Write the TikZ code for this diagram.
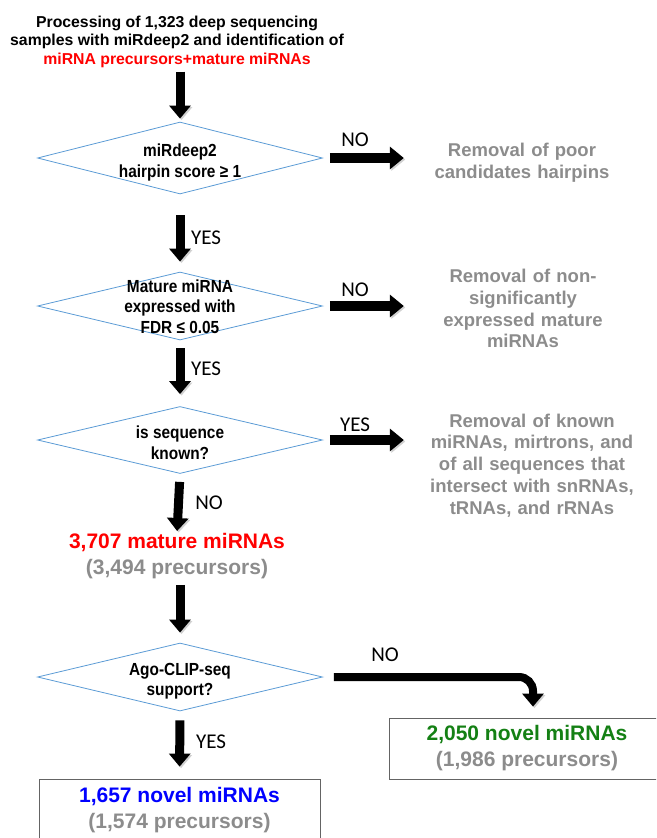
\documentclass[tikz,border=0pt]{standalone}
\usepackage{fontspec}
\setmainfont{Liberation Sans}
\newfontfamily\answerfont{Carlito}
\newfontfamily\narrowfont[FakeStretch=0.88]{Liberation Sans}
\usetikzlibrary{shapes.geometric,arrows.meta}
\definecolor{diablue}{RGB}{91,155,213}
\definecolor{txtgray}{RGB}{140,140,140}
\definecolor{novgreen}{RGB}{20,128,20}
\definecolor{boxgray}{RGB}{100,100,100}

\begin{document}
\begin{tikzpicture}[x=1pt,y=-1pt,
    decision/.style={diamond,draw=diablue,line width=0.8pt,inner sep=0pt,minimum width=285pt},
    dtext/.style={font=\narrowfont\fontsize{17.5}{20.5}\selectfont\bfseries,align=center,inner sep=0pt},
    removal/.style={font=\fontsize{18.5}{21.8}\selectfont\bfseries,text=txtgray,align=center,
                    text width=210pt,inner sep=0pt},
    answer/.style={font=\answerfont\fontsize{21}{24}\selectfont,inner sep=0pt},
    result/.style={draw=boxgray,line width=0.8pt,font=\fontsize{21}{26}\selectfont\bfseries,align=center},
    shade/.style={preaction={draw=black!18,transform canvas={shift={(1.5pt,-1.5pt)}}}},
    down/.style={shade,line width=9pt,-{Triangle[width=21pt,length=13pt]}},
    across/.style={shade,line width=10pt,-{Triangle[width=22pt,length=14pt]}}]

  \useasboundingbox (0,0) rectangle (656,838);
  \clip (0,0) rectangle (656,838);

  % start
  \node[font=\fontsize{15.8}{18.5}\selectfont\bfseries,align=center,inner sep=0pt] (title) at (177,41.5)
    {Processing of 1,323 deep sequencing\\samples with miRdeep2 and identification of\\
     \textcolor{red}{miRNA precursors+mature miRNAs}};

  % decisions
  \node[decision,minimum height=72pt] (hairpin) at (180,158) {};
  \node[decision,minimum height=68pt] (expressed) at (180,306) {};
  \node[decision,minimum height=67pt] (known) at (180,440) {};
  \node[decision,minimum height=68pt] (clip) at (180,677) {};

  \node[dtext] (hairpintxt) at (180,162.5) {miRdeep2\\hairpin score ≥ 1};
  \node[dtext] (expressedtxt) at (180,306.5) {Mature miRNA\\expressed with\\FDR ≤ 0.05};
  \node[dtext] (knowntxt) at (180,442.5) {is sequence\\known?};
  \node[dtext] (cliptxt) at (180,681) {Ago-CLIP-seq\\support?};

  % removed candidates
  \node[removal] (poor) at (522,162.5) {Removal of poor\\candidates hairpins};
  \node[removal] (nonsig) at (523,308.5) {Removal of non-\\significantly\\expressed mature\\miRNAs};
  \node[removal] (knownrm) at (532,465.5) {Removal of known\\miRNAs, mirtrons, and\\of all sequences that\\
    intersect with snRNAs,\\tRNAs, and rRNAs};

  % results
  \node[inner sep=0pt,font=\fontsize{21}{26}\selectfont\bfseries,align=center] (mature) at (177,556)
    {\textcolor{red}{3,707 mature miRNAs}\\\textcolor{txtgray}{(3,494 precursors)}};
  \node[result,minimum width=276pt,minimum height=61pt] (novel) at (527,748.5)
    {\textcolor{novgreen}{2,050 novel miRNAs}\\\textcolor{txtgray}{(1,986 precursors)}};
  \node[result,minimum width=281pt,minimum height=63pt] (supported) at (179.5,810.5)
    {\textcolor{blue}{1,657 novel miRNAs}\\\textcolor{txtgray}{(1,574 precursors)}};

  % answers
  \node[answer] (no1) at (355,140) {NO};
  \node[answer] (yes1) at (206,238) {YES};
  \node[answer] (no2) at (355,290) {NO};
  \node[answer] (yes2) at (206,369) {YES};
  \node[answer] (yes3) at (355,425) {YES};
  \node[answer] (no3) at (209,503) {NO};
  \node[answer] (no4) at (385,655) {NO};
  \node[answer] (yes4) at (211,742) {YES};

  % arrows
  \draw[down] ([yshift=-4pt]title.south -| hairpin.north) -- ([yshift=3pt]hairpin.north);
  \draw[down,shorten <=21pt,shorten >=10pt] (hairpin.south) -- (expressed.north);
  \draw[down,shorten <=8pt,shorten >=12pt] (expressed.south) -- (known.north);
  \draw[down,shorten <=8pt,shorten >=2pt] (known.south) -- (mature.north);
  \draw[down,shorten <=6pt,shorten >=10pt] (mature.south -| clip.north) -- (clip.north);
  \draw[down,shorten <=9pt,shorten >=12pt] (clip.south) -- (supported.north);

  \draw[across,shorten <=7pt,shorten >=13pt] (hairpin.east) -- (hairpin.east -| poor.west);
  \draw[across,shorten <=7pt,shorten >=14pt] (expressed.east) -- (expressed.east -| nonsig.west);
  \draw[across,shorten <=7pt,shorten >=23pt] (known.east) -- (known.east -| knownrm.west);
  \draw[shade,line width=8pt,rounded corners=14pt,-{Triangle[width=21pt,length=13pt]}]
    ([xshift=11pt]clip.east) -| ([xshift=6pt,yshift=11pt]novel.north);

\end{tikzpicture}
\end{document}
